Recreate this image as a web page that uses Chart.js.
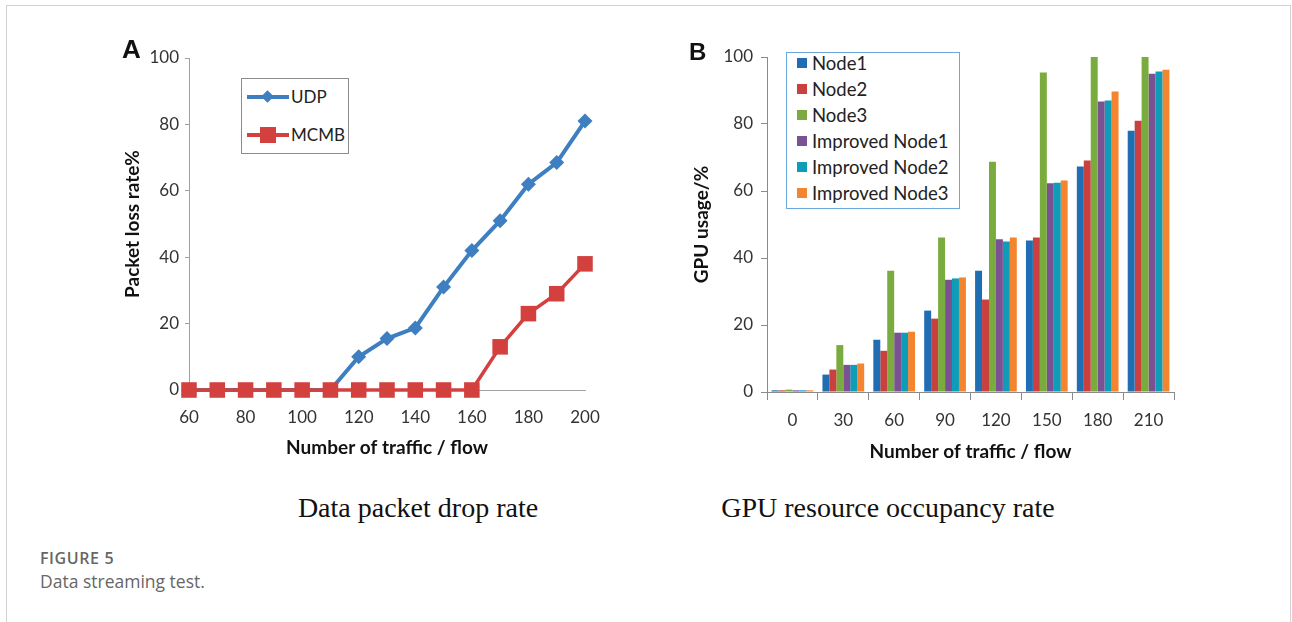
<!DOCTYPE html>
<html>
<head>
<meta charset="utf-8">
<script src="https://cdn.jsdelivr.net/npm/chart.js@4.4.1/dist/chart.umd.min.js"></script>
<style>
  html, body { margin:0; padding:0; background:#fff; }
  body { width:1292px; height:622px; position:relative; overflow:hidden; font-family: Lato, sans-serif; }
  .abs { position:absolute; }
  #frame { left:6px; top:5px; width:1283px; height:700px; border:1px solid #d2d2d2; }
  .panel { font-family: "Liberation Sans", Arial, sans-serif; font-weight:bold; color:#111; }
  .cap { font-family: "Liberation Serif", "Times New Roman", serif; font-size:28px; color:#111; white-space:nowrap; transform:translateX(-50%); line-height:1.2; }
  .legA { border:1px solid #8c8c8c; background:#fff; }
  .legB { border:1.5px solid #6aa8dd; background:#fff; }
  .ltxt { font-family: Lato, sans-serif; font-size:17px; color:#222; white-space:nowrap; line-height:1; }
</style>
</head>
<body>
<div id="frame" class="abs"></div>

<div class="abs" style="left:119px;top:40px;width:500px;height:430px;"><canvas id="cA" width="500" height="430"></canvas></div>
<div class="abs" style="left:688px;top:35px;width:500px;height:440px;"><canvas id="cB" width="500" height="440"></canvas></div>

<div class="abs panel" style="left:122px;top:34px;font-size:26px;">A</div>
<div class="abs panel" style="left:689px;top:38px;font-size:24px;">B</div>

<!-- Legend A -->
<div class="abs legA" style="left:241px;top:78px;width:106px;height:74px;"></div>
<div class="abs" style="left:247px;top:95px;width:42px;height:4px;background:#3d7fc1;"></div>
<div class="abs" style="left:263px;top:92px;width:9px;height:9px;background:#3d7fc1;transform:rotate(45deg);"></div>
<div class="abs ltxt" style="left:291px;top:88px;">UDP</div>
<div class="abs" style="left:247px;top:133px;width:42px;height:4px;background:#d3413f;"></div>
<div class="abs" style="left:260px;top:127px;width:16px;height:16px;background:#d3413f;"></div>
<div class="abs ltxt" style="left:291px;top:126px;">MCMB</div>

<!-- Legend B -->
<div class="abs legB" id="legB" style="left:786px;top:52px;width:172px;height:155px;"></div>

<div class="abs cap" style="left:418px;top:491px;">Data packet drop rate</div>
<div class="abs cap" style="left:888px;top:491px;">GPU resource occupancy rate</div>

<div class="abs" style="left:40px;top:547px;font-family:'Open Sans',sans-serif;font-size:16px;font-weight:600;color:#666;letter-spacing:0.6px;line-height:22px;">FIGURE 5</div>
<div class="abs" style="left:40px;top:569px;font-family:'Open Sans',sans-serif;font-size:17.5px;color:#666;line-height:24px;">Data streaming test.</div>

<script>
// ---------- Data: chart A ----------
const trafficA = [60, 70, 80, 90, 100, 110, 120, 130, 140, 150, 160, 170, 180, 190, 200];
const udpLoss  = [0, 0, 0, 0, 0, 0, 10, 15.5, 18.7, 31, 42, 51, 62, 68.5, 81];
const mcmbLoss = [0, 0, 0, 0, 0, 0, 0, 0, 0, 0, 0, 13, 23, 29, 38];
const yTicksA  = [0, 20, 40, 60, 80, 100];

// ---------- Data: chart B ----------
const trafficB = ['0', '30', '60', '90', '120', '150', '180', '210'];
const node1    = [0.5, 5.2, 15.6, 24.3, 36.2, 45.2, 67.3, 78.0];
const node2    = [0.5, 6.7, 12.3, 21.9, 27.6, 46.1, 69.1, 81.0];
const node3    = [0.7, 14.0, 36.2, 46.1, 68.7, 95.4, 100, 100];
const impNode1 = [0.5, 8.1, 17.7, 33.5, 45.6, 62.3, 86.7, 95.0];
const impNode2 = [0.5, 8.1, 17.7, 33.9, 44.9, 62.5, 87.0, 95.7];
const impNode3 = [0.5, 8.5, 18.0, 34.2, 46.1, 63.1, 89.7, 96.2];
const seriesNamesB = ['Node1', 'Node2', 'Node3', 'Improved Node1', 'Improved Node2', 'Improved Node3'];
const yTicksB  = [0, 20, 40, 60, 80, 100];

const colorsB = ['#1f6db3', '#c9413f', '#79ab3e', '#7a5193', '#0f9cb7', '#f4842e'];
const tickFont = { family: 'Lato', size: 17 };
const titleFont = { family: 'Lato', size: 19, weight: 'bold' };

// Legend B (HTML)
(function(){
  const ys = [63, 89, 115, 141, 167, 193];
  seriesNamesB.forEach((n, i) => {
    const sq = document.createElement('div');
    sq.className = 'abs';
    sq.style.cssText = `left:797px;top:${ys[i]-5}px;width:10px;height:10px;background:${colorsB[i]};`;
    document.body.appendChild(sq);
    const t = document.createElement('div');
    t.className = 'abs ltxt';
    t.style.cssText = `left:812px;top:${ys[i]-9}px;font-size:18.5px;`;
    t.textContent = n;
    document.body.appendChild(t);
  });
})();

Chart.defaults.animation = false;

new Chart(document.getElementById('cA'), {
  type: 'line',
  data: {
    datasets: [
      {
        label: 'MCMB',
        data: trafficA.map((x, i) => ({ x, y: mcmbLoss[i] })),
        borderColor: '#d3413f', backgroundColor: '#d3413f',
        borderWidth: 3.5, pointStyle: 'rect', pointRadius: 11, pointBorderWidth: 0,
        clip: false, order: 0
      },
      {
        label: 'UDP',
        data: trafficA.map((x, i) => ({ x, y: udpLoss[i] })),
        borderColor: '#3d7fc1', backgroundColor: '#3d7fc1',
        borderWidth: 4, pointStyle: 'rectRot', pointRadius: 7.5, pointBorderWidth: 0,
        clip: false, order: 1
      }
    ]
  },
  options: {
    responsive: false,
    layout: { padding: { left: 0, right: 34, top: 18, bottom: 0 } },
    plugins: { legend: { display: false }, tooltip: { enabled: false } },
    scales: {
      x: {
        type: 'linear', min: 60, max: 200,
        afterFit: s => { s.height = 80; },
        afterBuildTicks: s => { s.ticks = trafficA.filter(v => v % 20 === 0).map(v => ({ value: v })); },
        grid: { display: false },
        border: { display: true, color: '#a0a0a0', width: 1 },
        ticks: { font: tickFont, color: '#333', padding: 9, maxRotation: 0 },
        title: { display: true, text: 'Number of traffic / flow', font: titleFont, color: '#111', padding: { top: 4, bottom: 11 } }
      },
      y: {
        min: 0, max: 100,
        afterFit: s => { s.width = 70; },
        afterBuildTicks: s => { s.ticks = yTicksA.map(v => ({ value: v })); },
        grid: { drawOnChartArea: false, tickLength: 4, color: '#a0a0a0' },
        border: { display: true, color: '#a0a0a0', width: 1 },
        ticks: { font: tickFont, color: '#333', padding: 6 },
        title: { display: true, text: 'Packet loss rate%', font: titleFont, color: '#111', padding: { top: 2, bottom: 4 } }
      }
    }
  }
});

const seriesB = [node1, node2, node3, impNode1, impNode2, impNode3];
new Chart(document.getElementById('cB'), {
  type: 'bar',
  data: {
    labels: trafficB,
    datasets: seriesB.map((d, i) => ({
      label: seriesNamesB[i], data: d,
      backgroundColor: colorsB[i], borderWidth: 0,
      categoryPercentage: 0.82, barPercentage: 1.0
    }))
  },
  options: {
    responsive: false,
    layout: { padding: { left: 0, right: 14, top: 22, bottom: 0 } },
    plugins: { legend: { display: false }, tooltip: { enabled: false } },
    scales: {
      x: {
        afterFit: s => { s.height = 83; },
        grid: { display: true, drawOnChartArea: false, tickLength: 8, offset: true, color: '#8a8a8a' },
        border: { display: true, color: '#8a8a8a', width: 1 },
        ticks: { font: tickFont, color: '#333', padding: 10, maxRotation: 0 },
        title: { display: true, text: 'Number of traffic / flow', font: titleFont, color: '#111', padding: { top: 4, bottom: 12 } }
      },
      y: {
        min: 0, max: 100,
        afterFit: s => { s.width = 79; },
        afterBuildTicks: s => { s.ticks = yTicksB.map(v => ({ value: v })); },
        grid: { drawOnChartArea: false, tickLength: 6, color: '#8a8a8a' },
        border: { display: true, color: '#8a8a8a', width: 1 },
        ticks: { font: tickFont, color: '#333', padding: 8 },
        title: { display: true, text: 'GPU usage/%', font: titleFont, color: '#111', padding: { top: 2, bottom: 4 } }
      }
    }
  }
});
</script>
</body>
</html>
